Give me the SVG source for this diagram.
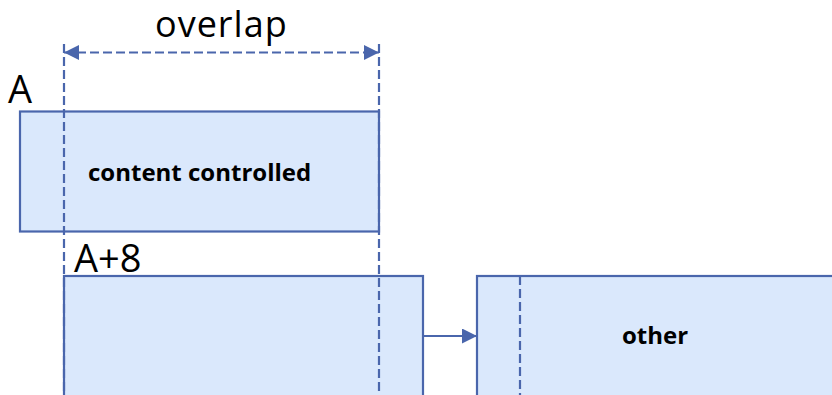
<svg xmlns="http://www.w3.org/2000/svg" width="832" height="395" viewBox="0 0 832 395">
  <style>
    .box { fill: #dae8fc; stroke: #4a66ac; stroke-width: 2.2; }
    .guide { fill: none; stroke: #4a66ac; stroke-width: 2.2; stroke-dasharray: 9 4; }
    .edge { fill: none; stroke: #4a66ac; stroke-width: 2.2; }
    .lbl { font-family: "Open Sans", "Noto Sans", sans-serif; fill: #000; }
    .big { font-size: 38px; }
    .title { font-size: 36px; letter-spacing: 1px; }
    .bold { font-size: 24px; font-weight: bold; }
  </style>
  <defs>
    <marker id="tri" viewBox="0 0 10 10" refX="10" refY="5" markerWidth="16" markerHeight="15" markerUnits="userSpaceOnUse" orient="auto-start-reverse">
      <path d="M0,0 L10,5 L0,10 Z" fill="#4a66ac"/>
    </marker>
  </defs>

  <!-- block starting at A -->
  <g id="node-a">
    <rect class="box" x="20" y="111.5" width="359" height="120"/>
    <text class="lbl big" x="8" y="103">A</text>
    <text class="lbl bold" x="88" y="181">content controlled</text>
  </g>

  <!-- block starting at A+8 -->
  <g id="node-a8">
    <rect class="box" x="64" y="276" width="359" height="130"/>
    <text class="lbl big" x="74" y="272">A+8</text>
  </g>

  <!-- following block -->
  <g id="node-other">
    <rect class="box" x="477" y="276" width="370" height="130"/>
    <text class="lbl bold" x="655" y="344" text-anchor="middle">other</text>
  </g>

  <!-- overlap span and guides -->
  <g id="overlap">
    <text class="lbl title" x="155" y="37">overlap</text>
    <line class="guide" x1="64" y1="44" x2="64" y2="395"/>
    <line class="guide" x1="379" y1="44" x2="379" y2="395"/>
    <line class="guide" x1="64" y1="52.5" x2="379" y2="52.5" marker-start="url(#tri)" marker-end="url(#tri)"/>
    <line class="guide" x1="520" y1="276" x2="520" y2="395"/>
  </g>

  <g id="connectors">
    <line class="edge" x1="423" y1="336" x2="477" y2="336" marker-end="url(#tri)"/>
  </g>
</svg>
